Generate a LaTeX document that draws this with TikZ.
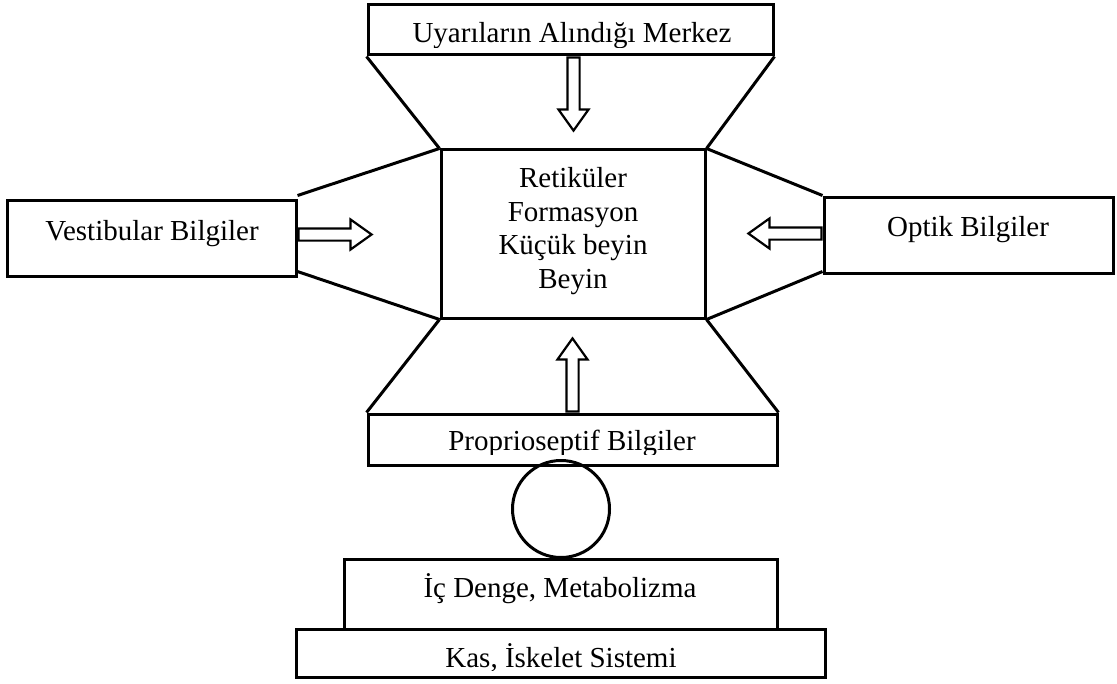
\documentclass[tikz,border=0pt]{standalone}
\usepackage{fontspec}
\setmainfont{Liberation Serif}
\usetikzlibrary{shapes.arrows}

\begin{document}
\begin{tikzpicture}[x=0.5pt,y=-0.5pt,line width=1.5pt,
    font=\fontsize{14.5}{16.7}\selectfont,
    box/.style={draw,rectangle,inner sep=0pt},
    txt/.style={inner sep=0pt,anchor=base},
    ring/.style={draw,circle,inner sep=0pt,minimum size=48.5pt},
    inarrow/.style={draw,single arrow,line width=1.1pt,inner sep=2.5pt,
      minimum height=36.5pt,minimum width=15pt,
      single arrow head extend=4.5pt,single arrow tip angle=71,anchor=tail}]
  \useasboundingbox (0,0) rectangle (1117,684);

  \node[box,minimum width=202.5pt,minimum height=25pt] (uyari) at (570.5,30) {};
  \node[box,minimum width=132pt,minimum height=84pt] (core) at (573,234) {};
  \node[box,minimum width=144.5pt,minimum height=37.5pt] (vest) at (151.5,238.5) {};
  \node[box,minimum width=144.5pt,minimum height=37.5pt] (optik) at (968.5,235.5) {};
  \node[box,minimum width=204.5pt,minimum height=25.5pt] (proprio) at (572.5,439.5) {};
  \node[ring] (joint) at (561,509) {};
  \node[box,minimum width=216.5pt,minimum height=35pt] (denge) at (560.5,594) {};
  \node[box,minimum width=264.5pt,minimum height=24pt] (kas) at (560.5,653) {};

  \draw
    (uyari.south west) -- (core.north west)
    (uyari.south east) -- (core.north east)
    ([yshift=2pt]vest.north east) -- (core.north west)
    ([yshift=3pt]vest.south east) -- (core.south west)
    ([yshift=0.5pt]optik.north west) -- (core.north east)
    ([yshift=1.5pt]optik.south west) -- (core.south east)
    (core.south west) -- (proprio.north west)
    (core.south east) -- (proprio.north east);

  \node[inarrow,rotate=-90] (downarr) at ([xshift=1.5pt]uyari.south) {};
  \node[inarrow,rotate=90] (uparr) at (proprio.north) {};
  \node[inarrow] (vestarr) at ([yshift=2pt]vest.east) {};
  \node[inarrow,rotate=180] (optarr) at ([yshift=1pt]optik.west) {};

  \node[txt,align=center] (coretext) at (573,288) {Retiküler\\Formasyon\\Küçük beyin\\Beyin};
  \begin{scope}
    \clip (uyari.north west) rectangle ([yshift=4.5pt]uyari.south east);
    \node[txt] (uyaritext) at (572,43) {Uyarıların Alındığı Merkez};
  \end{scope}
  \node[txt] (vesttext) at (152,240) {Vestibular Bilgiler};
  \node[txt] (optiktext) at (968,236) {Optik Bilgiler};
  \begin{scope}
    \clip (proprio.north west) rectangle ([yshift=6pt]proprio.south east);
    \node[txt] (propriotext) at (572,450) {Proprioseptif Bilgiler};
  \end{scope}
  \node[txt] (dengetext) at (560,597) {İç Denge, Metabolizma};
  \begin{scope}
    \clip (kas.north west) rectangle ([yshift=4.25pt]kas.south east);
    \node[txt] (kastext) at (561,667) {Kas, İskelet Sistemi};
  \end{scope}
\end{tikzpicture}
\end{document}
